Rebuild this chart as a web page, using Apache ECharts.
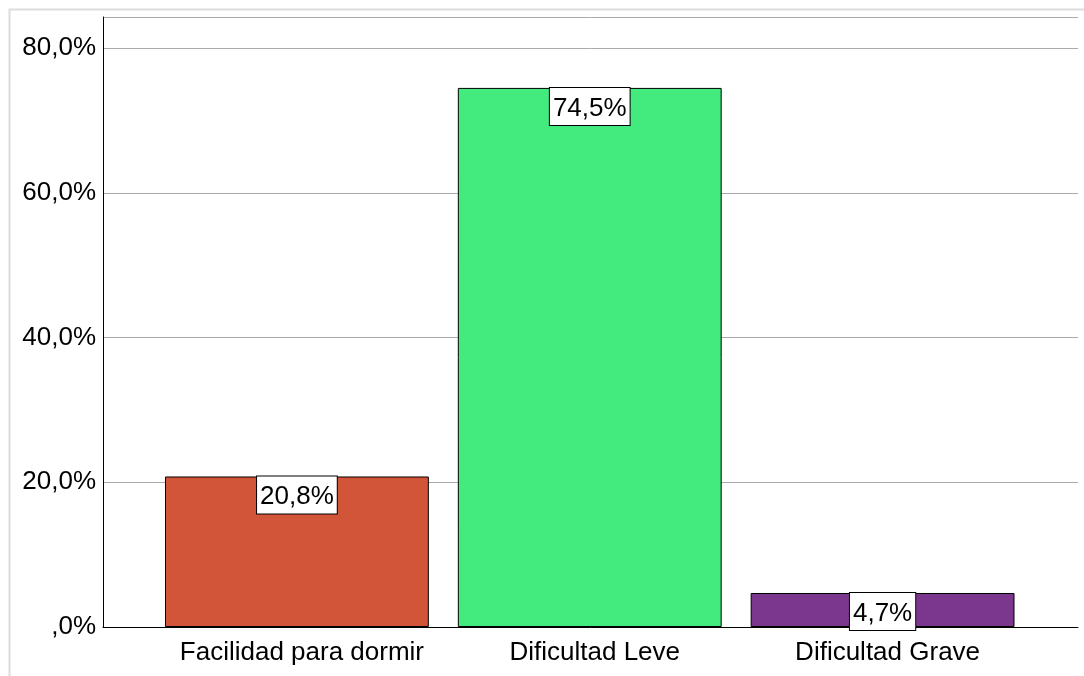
<!DOCTYPE html>
<html>
<head>
<meta charset="utf-8">
<script src="https://cdn.jsdelivr.net/npm/echarts@6/dist/echarts.min.js"></script>
<style>html,body{margin:0;padding:0;background:#fff;}#c{width:1084px;height:676px;}</style>
</head>
<body>
<div id="c"></div>
<script>
const categories = ['Facilidad para dormir', 'Dificultad Leve', 'Dificultad Grave'];
const values = [20.8, 74.5, 4.7];
const barColors = ['#D2553A', '#43EB7E', '#7B378E'];
const yTicks = [0, 20, 40, 60, 80];

const fmt = v => (v === 0 ? ',0' : v.toFixed(1).replace('.', ',')) + '%';
const FONT = 'Liberation Sans, Arial, sans-serif';
const Y_MAX = 84.3;

const chart = echarts.init(document.getElementById('c'));
chart.setOption({
  animation: false,
  backgroundColor: '#fff',
  graphic: [{
    type: 'rect', left: 7, top: 7, z: -10,
    shape: { width: 2000, height: 2000 },
    style: { fill: 'none', stroke: '#dcdcdc', lineWidth: 2 }
  }],
  grid: [
    { left: 103, right: 6, top: 17, bottom: 49 },
    { left: 150.5, right: 55, top: 17, bottom: 49 }
  ],
  xAxis: [
    { gridIndex: 0, type: 'value', min: 0, max: 1,
      axisLine: { show: true, onZero: false, lineStyle: { color: '#000', width: 1 } },
      axisTick: { show: false }, axisLabel: { show: false }, splitLine: { show: false } },
    { gridIndex: 1, type: 'category', data: categories,
      axisLine: { show: false }, axisTick: { show: false }, splitLine: { show: false },
      axisLabel: { interval: 0, color: '#000', fontSize: 26, fontFamily: FONT, margin: 13, padding: [0, 0, 0, 10] } }
  ],
  yAxis: [
    { gridIndex: 0, type: 'value', min: 0, max: Y_MAX, interval: 20,
      axisLine: { show: true, lineStyle: { color: '#000', width: 1 } },
      axisTick: { show: false },
      axisLabel: { color: '#000', fontSize: 26, fontFamily: FONT, margin: 7, padding: [7, 0, 0, 0],
        formatter: v => (yTicks.indexOf(v) >= 0 ? fmt(v) : '') },
      splitLine: { show: true, lineStyle: { color: '#aaaaaa', width: 1 } } },
    { gridIndex: 1, type: 'value', min: 0, max: Y_MAX, interval: 20, show: false,
      splitLine: { show: false } }
  ],
  series: [{
    type: 'bar',
    xAxisIndex: 1, yAxisIndex: 1,
    barCategoryGap: '9.9%',
    data: values.map((v, i) => ({ value: v, itemStyle: { color: barColors[i] } })),
    itemStyle: { borderColor: '#000', borderWidth: 1 },
    label: {
      show: true, position: 'insideTop', distance: 0,
      formatter: p => fmt(p.value),
      color: '#000', fontSize: 26, fontFamily: FONT, lineHeight: 31,
      backgroundColor: '#fff', borderColor: '#000', borderWidth: 1,
      padding: [5, 3, 1, 3]
    }
  }]
});
</script>
</body>
</html>
